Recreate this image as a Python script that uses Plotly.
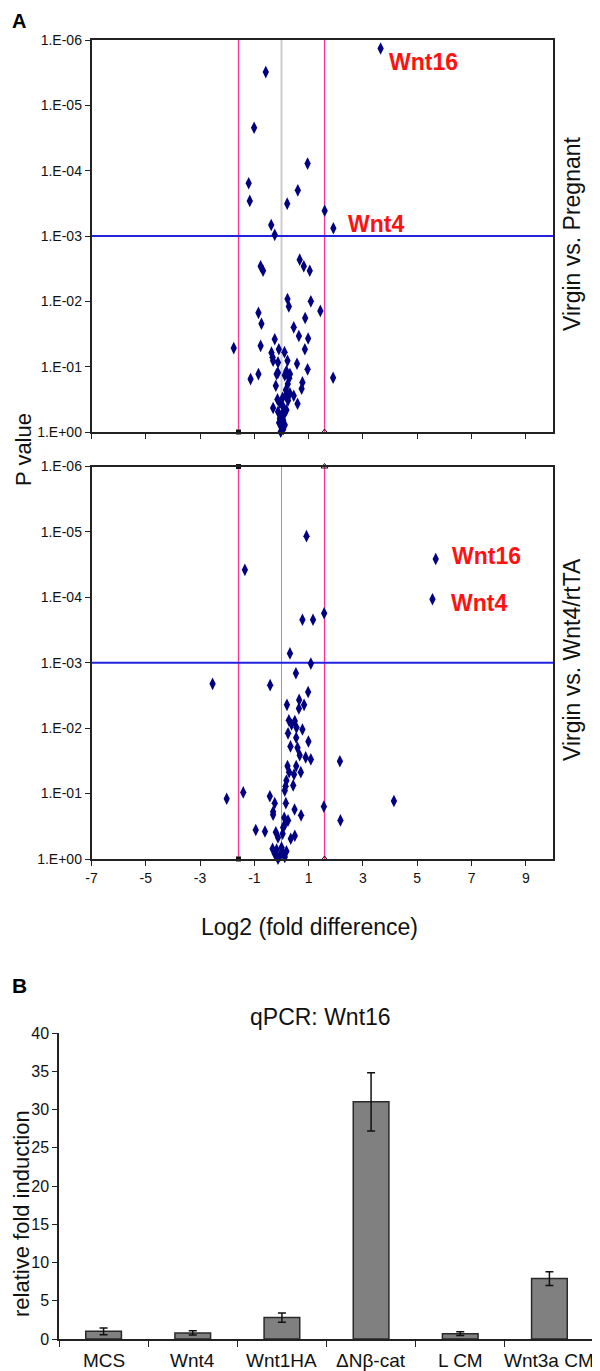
import plotly.graph_objects as go

# ---------------- data ----------------
# Panel A, top: Virgin vs. Pregnant
top_log2fc = [3.65, -0.58, -1.01, 0.96, -1.21, 0.60, -1.17, 0.21, 1.59, 1.91,
              -0.38, -0.25, 0.67, -0.77, -0.68, 0.82, 1.04, 0.22, 0.27, 1.08,
              1.43, -0.85, 0.87, -0.74, 0.45, 0.64, -0.25, 0.98, -1.76, -0.77,
              0.86, -0.37, -0.10, 0.11, -0.33, -0.31, -0.13, 0.22, 0.57, 0.96,
              -0.13, 0.18, 0.12, 0.31, -0.85, -1.14, -0.18, 0.28, 0.77, 0.74,
              -0.21, 0.23, 0.16, 0.31, 0.45, 0.15, 0.04, -0.15, 0.24, 0.59,
              1.90, -0.31, -0.06, 0.06, 0.18, -0.13, 0.00, 0.12, -0.06, 0.06,
              -0.09, 0.12, 0.00, -0.03, 0.06]
top_pvalue = [1.35e-6, 3.1e-6, 2.2e-5, 7.8e-5, 1.56e-4, 2.0e-4, 2.9e-4, 3.2e-4, 4.1e-4, 7.6e-4,
              6.8e-4, 9.6e-4, 2.3e-3, 2.9e-3, 3.4e-3, 2.9e-3, 3.4e-3, 9.2e-3, 1.2e-2, 1.0e-2,
              1.4e-2, 1.5e-2, 1.8e-2, 2.2e-2, 2.5e-2, 3.4e-2, 3.8e-2, 3.7e-2, 5.2e-2, 4.8e-2,
              5.4e-2, 6.1e-2, 5.4e-2, 6.0e-2, 7.2e-2, 8.1e-2, 8.6e-2, 8.1e-2, 9.0e-2, 0.11,
              0.124, 0.117, 0.135, 0.13, 0.13, 0.155, 0.13, 0.15, 0.174, 0.218,
              0.196, 0.185, 0.227, 0.256, 0.278, 0.276, 0.30, 0.317, 0.33, 0.37,
              0.148, 0.43, 0.36, 0.41, 0.46, 0.49, 0.55, 0.51, 0.62, 0.66,
              0.72, 0.78, 0.83, 0.99, 0.91]

# Panel A, bottom: Virgin vs. Wnt4/rtTA
bot_log2fc = [0.92, -1.35, 5.68, 5.56, 0.77, 1.16, 1.57, 0.31, 1.08, 0.53,
              -0.42, 0.98, 0.65, 0.20, 0.83, 0.64, 0.27, 0.49, 0.37, 0.24,
              0.55, 0.77, 0.54, 0.99, 0.33, 0.59, 0.67, 0.89, 1.08, 2.15,
              0.22, 0.54, 0.28, 0.46, 0.71, 0.18, 0.43, 0.15, 0.12, -2.02,
              -1.41, -0.43, -0.25, 0.16, 1.56, 0.48, -0.31, -0.31, 0.72, 2.17,
              0.10, 0.24, 0.12, -0.95, -0.61, -0.21, 0.06, 0.04, 0.49, 0.34,
              -0.13, -0.33, -0.18, 0.00, 0.18, -0.25, -0.06, 0.06, -0.13, 0.12,
              -2.54, 4.14]
bot_pvalue = [1.16e-5, 3.8e-5, 2.6e-5, 1.07e-4, 2.2e-4, 2.2e-4, 1.75e-4, 7.2e-4, 1.03e-3, 1.45e-3,
              2.2e-3, 2.8e-3, 3.7e-3, 4.4e-3, 4.4e-3, 5.0e-3, 7.6e-3, 7.8e-3, 8.8e-3, 1.2e-2,
              9.8e-3, 1.05e-2, 1.4e-2, 1.6e-2, 1.9e-2, 2.0e-2, 2.6e-2, 2.8e-2, 3.0e-2, 3.2e-2,
              3.8e-2, 3.8e-2, 4.7e-2, 5.1e-2, 4.7e-2, 6.3e-2, 7.5e-2, 7.7e-2, 9.0e-2, 0.12,
              9.6e-2, 0.11, 0.14, 0.14, 0.158, 0.175, 0.19, 0.21, 0.215, 0.257,
              0.234, 0.257, 0.30, 0.36, 0.38, 0.39, 0.33, 0.41, 0.44, 0.49,
              0.47, 0.70, 0.72, 0.67, 0.76, 0.83, 0.89, 0.81, 0.99, 0.93,
              2.1e-3, 0.13]

fold_cutoff = 1.585      # log2(3)
p_cutoff = 1e-3

p_ticks = [1e-6, 1e-5, 1e-4, 1e-3, 1e-2, 1e-1, 1]
p_tick_labels = ["1.E-06", "1.E-05", "1.E-04", "1.E-03", "1.E-02", "1.E-01", "1.E+00"]
x_ticks = [-7, -5, -3, -1, 1, 3, 5, 7, 9]
x_tick_labels = ["-7", "-5", "-3", "-1", "1", "3", "5", "7", "9"]

# Panel B: qPCR Wnt16
bar_categories = ["MCS", "Wnt4", "Wnt1HA", "\u0394N\u03b2-cat", "L CM", "Wnt3a CM"]
bar_values = [1.0, 0.8, 2.8, 31.0, 0.7, 7.9]
bar_errors = [0.45, 0.27, 0.6, 3.8, 0.25, 0.9]

# ---------------- layout helpers ----------------
W, H = 600, 1371
OFF = 8   # page body margin: the plot div starts 8px in from the window edge
def fx(px):
    return (px - OFF) / W
def fy(py):
    return 1 - (py - OFF) / H

FONT = "Liberation Sans, Arial, sans-serif"
NAVY = "#000080"
PINK = "#ff3399"
BLUE = "#2222dd"

fig = go.Figure()

def add_panel(xa, ya, xs, ps, gray_color, gray_width, top_markers):
    fig.add_trace(go.Scatter(x=[0, 0], y=[1, 1e-6], mode="lines",
                             line=dict(color=gray_color, width=gray_width),
                             xaxis=xa, yaxis=ya, hoverinfo="skip"))
    for sgn in (-1, 1):
        fig.add_trace(go.Scatter(x=[sgn * fold_cutoff] * 2, y=[1, 1e-6], mode="lines",
                                 line=dict(color=PINK, width=1.3),
                                 xaxis=xa, yaxis=ya, hoverinfo="skip"))
    fig.add_trace(go.Scatter(x=[-7, 10], y=[p_cutoff, p_cutoff], mode="lines",
                             line=dict(color=BLUE, width=1.8),
                             xaxis=xa, yaxis=ya, hoverinfo="skip"))
    ys = [1, 1e-6] if top_markers else [1]
    fig.add_trace(go.Scatter(x=[-fold_cutoff] * len(ys), y=ys, mode="markers",
                             marker=dict(symbol="square", size=5, color="#111111"),
                             cliponaxis=False, xaxis=xa, yaxis=ya, hoverinfo="skip"))
    fig.add_trace(go.Scatter(x=[fold_cutoff] * len(ys), y=ys, mode="markers",
                             marker=dict(symbol="triangle-up-open", size=6, color="#111111",
                                         line=dict(width=1)),
                             cliponaxis=False, xaxis=xa, yaxis=ya, hoverinfo="skip"))
    fig.add_trace(go.Scatter(x=xs, y=ps, mode="markers",
                             marker=dict(symbol="diamond-tall", size=9, color=NAVY),
                             cliponaxis=False, xaxis=xa, yaxis=ya))

add_panel("x", "y", top_log2fc, top_pvalue, "#cccccc", 2, False)
add_panel("x2", "y2", bot_log2fc, bot_pvalue, "#999999", 1, True)

fig.add_trace(go.Bar(x=bar_categories, y=bar_values, width=0.4,
                     marker=dict(color="#808080", line=dict(color="#2a2a2a", width=1.5)),
                     error_y=dict(type="data", array=bar_errors, color="#111111",
                                  thickness=1.5, width=4),
                     xaxis="x3", yaxis="y3"))

xdom = [fx(91.5), fx(553)]
common_x = dict(range=[-7, 10], tickvals=x_ticks, ticktext=x_tick_labels,
                ticks="outside", ticklen=5, automargin=False,
                tickcolor="#222", showline=True, linecolor="#222", linewidth=1.5,
                mirror=True, showgrid=False, zeroline=False,
                tickfont=dict(family=FONT, size=14, color="#111"))
common_y = dict(type="log", range=[0, -6], tickvals=p_ticks, ticktext=p_tick_labels,
                ticks="outside", ticklen=5, tickcolor="#222", showline=True,
                automargin=False,
                linecolor="#222", linewidth=1.5, mirror=True, showgrid=False,
                zeroline=False, tickfont=dict(family=FONT, size=14, color="#111"))

fig.update_layout(
    width=W, height=H, autosize=False,
    margin=dict(l=0, r=0, t=0, b=0, pad=0, autoexpand=False),
    paper_bgcolor="white", plot_bgcolor="white", showlegend=False,
    xaxis=dict(domain=xdom, anchor="y", showticklabels=False, **common_x),
    yaxis=dict(domain=[fy(432), fy(40)], anchor="x", **common_y),
    xaxis2=dict(domain=xdom, anchor="y2", showticklabels=True, **common_x),
    yaxis2=dict(domain=[fy(859), fy(466.5)], anchor="x2", **common_y),
    xaxis3=dict(domain=[fx(59), fx(594)], anchor="y3", type="category",
                range=[-0.5, 5.5], tickson="boundaries", ticks="outside", ticklen=6,
                showticklabels=False, automargin=False,
                tickcolor="#222", showline=True, linecolor="#222", linewidth=1.5,
                showgrid=False),
    yaxis3=dict(domain=[fy(1339), fy(1033)], anchor="x3", range=[0, 40], dtick=5,
                ticks="outside", ticklen=5, tickcolor="#222", showline=True,
                automargin=False,
                linecolor="#222", linewidth=1.5, showgrid=False, zeroline=False,
                tickfont=dict(family=FONT, size=16, color="#111")),
)

ann = []
red = dict(family=FONT, size=23, color="#ff1111")
ann.append(dict(x=3.90, y=-5.66, xref="x", yref="y", text="<b>Wnt16</b>", font=red,
                xanchor="left", yanchor="middle", showarrow=False))
ann.append(dict(x=2.39, y=-3.19, xref="x", yref="y", text="<b>Wnt4</b>", font=red,
                xanchor="left", yanchor="middle", showarrow=False))
ann.append(dict(x=6.22, y=-4.63, xref="x2", yref="y2", text="<b>Wnt16</b>", font=red,
                xanchor="left", yanchor="middle", showarrow=False))
ann.append(dict(x=6.16, y=-3.92, xref="x2", yref="y2", text="<b>Wnt4</b>", font=red,
                xanchor="left", yanchor="middle", showarrow=False))

# category labels of the bar chart
for cat in bar_categories:
    ann.append(dict(x=cat, y=fy(1360), xref="x3", yref="paper", text=cat,
                    font=dict(family=FONT, size=19, color="#111"),
                    xanchor="center", yanchor="middle", showarrow=False))

big = dict(family=FONT, size=23, color="#111")
ann.append(dict(x=fx(10), y=fy(21), xref="paper", yref="paper", text="<b>A</b>",
                font=dict(family=FONT, size=20, color="#000"), xanchor="left",
                yanchor="middle", showarrow=False))
ann.append(dict(x=fx(10), y=fy(985), xref="paper", yref="paper", text="<b>B</b>",
                font=dict(family=FONT, size=21, color="#000"), xanchor="left",
                yanchor="middle", showarrow=False))
ann.append(dict(x=fx(572), y=fy(234), xref="paper", yref="paper",
                text="Virgin vs. Pregnant", font=big, textangle=-90,
                xanchor="center", yanchor="middle", showarrow=False))
ann.append(dict(x=fx(572), y=fy(660), xref="paper", yref="paper",
                text="Virgin vs. Wnt4/rtTA", font=big, textangle=-90,
                xanchor="center", yanchor="middle", showarrow=False))
ann.append(dict(x=fx(23), y=fy(450), xref="paper", yref="paper",
                text="P value", font=dict(family=FONT, size=22, color="#111"),
                textangle=-90, xanchor="center", yanchor="middle", showarrow=False))
ann.append(dict(x=fx(309), y=fy(927), xref="paper", yref="paper",
                text="Log2 (fold difference)", font=big,
                xanchor="center", yanchor="middle", showarrow=False))
ann.append(dict(x=fx(320), y=fy(1017), xref="paper", yref="paper",
                text="qPCR: Wnt16", font=big,
                xanchor="center", yanchor="middle", showarrow=False))
ann.append(dict(x=fx(21), y=fy(1214), xref="paper", yref="paper",
                text="relative fold induction", font=dict(family=FONT, size=22, color="#111"),
                textangle=-90, xanchor="center", yanchor="middle", showarrow=False))
fig.update_layout(annotations=ann)

fig.write_html("out.html")
